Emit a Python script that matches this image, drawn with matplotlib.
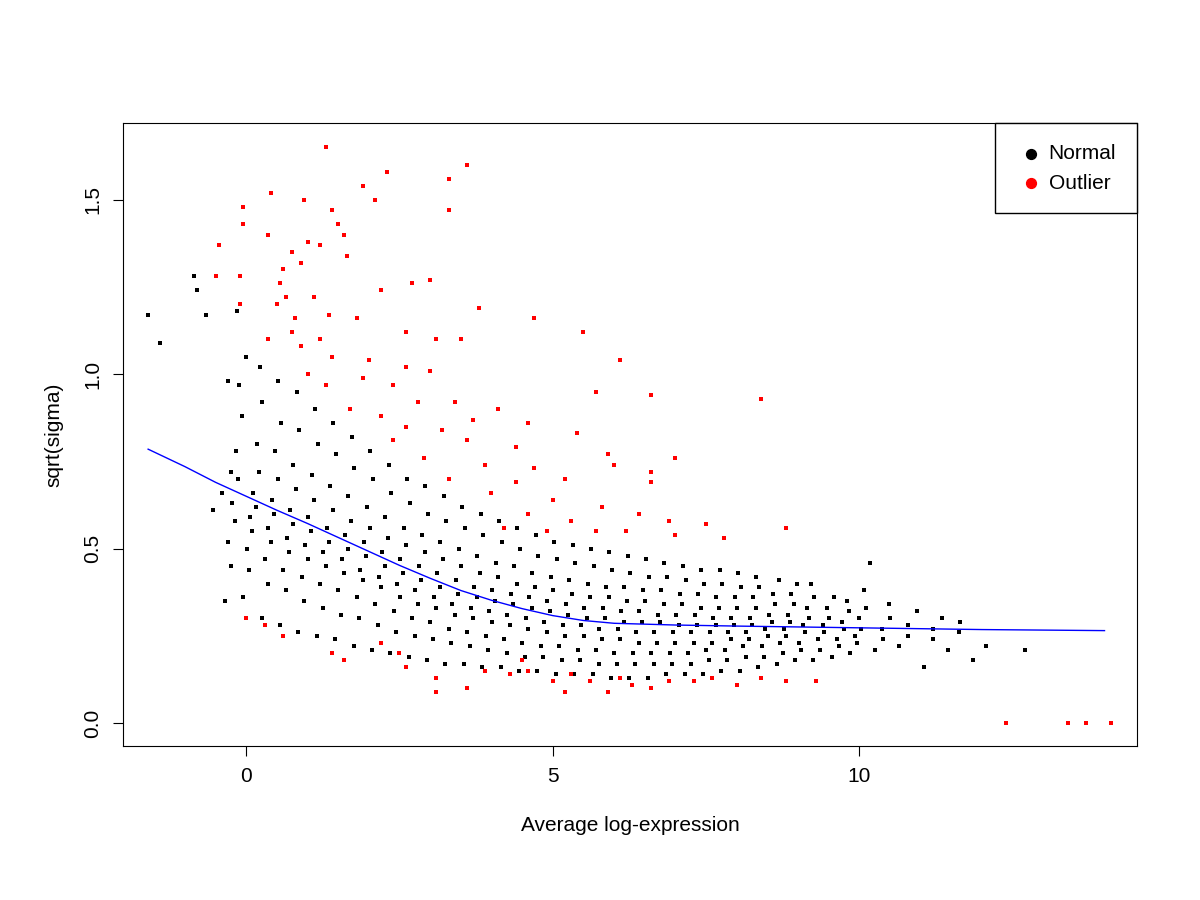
import matplotlib.pyplot as plt

# pontos "normais" lidos aproximadamente do grafico, agrupados por faixa de x
bin_x = [-0.2, 0.1, 0.4, 0.7, 1.0, 1.3, 1.6, 1.9, 2.2, 2.5, 2.8, 3.1, 3.4, 3.7,
         4.0, 4.3, 4.6, 4.9, 5.2, 5.5, 5.8, 6.1, 6.4, 6.7, 7.0, 7.3, 7.6, 7.9,
         8.2, 8.5, 8.8, 9.1, 9.4, 9.7, 10.0, 10.4, 10.8, 11.2, 11.6, 12.0]
bin_y = [
    [0.35, 0.45, 0.52, 0.58, 0.63, 0.70, 0.78, 0.88, 0.97, 1.05],
    [0.36, 0.44, 0.50, 0.55, 0.59, 0.62, 0.66, 0.72, 0.80, 0.92, 1.02],
    [0.30, 0.40, 0.47, 0.52, 0.56, 0.60, 0.64, 0.70, 0.78, 0.86, 0.98],
    [0.28, 0.38, 0.44, 0.49, 0.53, 0.57, 0.61, 0.67, 0.74, 0.84, 0.95],
    [0.26, 0.35, 0.42, 0.47, 0.51, 0.55, 0.59, 0.64, 0.71, 0.80, 0.90],
    [0.25, 0.33, 0.40, 0.45, 0.49, 0.52, 0.56, 0.61, 0.68, 0.77, 0.86],
    [0.24, 0.31, 0.38, 0.43, 0.47, 0.50, 0.54, 0.58, 0.65, 0.73, 0.82],
    [0.22, 0.30, 0.36, 0.41, 0.44, 0.48, 0.52, 0.56, 0.62, 0.70, 0.78],
    [0.21, 0.28, 0.34, 0.39, 0.42, 0.45, 0.49, 0.53, 0.59, 0.66, 0.74],
    [0.20, 0.26, 0.32, 0.36, 0.40, 0.43, 0.47, 0.51, 0.56, 0.63, 0.70],
    [0.19, 0.25, 0.30, 0.34, 0.38, 0.41, 0.45, 0.49, 0.54, 0.60, 0.68],
    [0.18, 0.24, 0.29, 0.33, 0.36, 0.39, 0.43, 0.47, 0.52, 0.58, 0.65],
    [0.17, 0.23, 0.27, 0.31, 0.34, 0.37, 0.41, 0.45, 0.50, 0.56, 0.62],
    [0.17, 0.22, 0.26, 0.30, 0.33, 0.36, 0.39, 0.43, 0.48, 0.54, 0.60],
    [0.16, 0.21, 0.25, 0.29, 0.32, 0.35, 0.38, 0.42, 0.46, 0.52, 0.58],
    [0.16, 0.20, 0.24, 0.28, 0.31, 0.34, 0.37, 0.40, 0.45, 0.50, 0.56],
    [0.15, 0.19, 0.23, 0.27, 0.30, 0.33, 0.36, 0.39, 0.43, 0.48, 0.54],
    [0.15, 0.19, 0.22, 0.26, 0.29, 0.32, 0.35, 0.38, 0.42, 0.47, 0.52],
    [0.14, 0.18, 0.22, 0.25, 0.28, 0.31, 0.34, 0.37, 0.41, 0.46, 0.51],
    [0.14, 0.18, 0.21, 0.25, 0.28, 0.30, 0.33, 0.36, 0.40, 0.45, 0.50],
    [0.14, 0.17, 0.21, 0.24, 0.27, 0.30, 0.33, 0.36, 0.39, 0.44, 0.49],
    [0.13, 0.17, 0.20, 0.24, 0.27, 0.29, 0.32, 0.35, 0.39, 0.43, 0.48],
    [0.13, 0.17, 0.20, 0.23, 0.26, 0.29, 0.32, 0.35, 0.38, 0.42, 0.47],
    [0.13, 0.17, 0.20, 0.23, 0.26, 0.29, 0.31, 0.34, 0.38, 0.42, 0.46],
    [0.14, 0.17, 0.20, 0.23, 0.26, 0.28, 0.31, 0.34, 0.37, 0.41, 0.45],
    [0.14, 0.17, 0.20, 0.23, 0.26, 0.28, 0.31, 0.33, 0.37, 0.40, 0.44],
    [0.14, 0.18, 0.21, 0.23, 0.26, 0.28, 0.30, 0.33, 0.36, 0.40, 0.44],
    [0.15, 0.18, 0.21, 0.24, 0.26, 0.28, 0.30, 0.33, 0.36, 0.39, 0.43],
    [0.15, 0.19, 0.22, 0.24, 0.26, 0.28, 0.30, 0.33, 0.36, 0.39, 0.42],
    [0.16, 0.19, 0.22, 0.25, 0.27, 0.29, 0.31, 0.34, 0.37, 0.41],
    [0.17, 0.20, 0.23, 0.25, 0.27, 0.29, 0.31, 0.34, 0.37, 0.40],
    [0.18, 0.21, 0.23, 0.26, 0.28, 0.30, 0.33, 0.36, 0.40],
    [0.18, 0.21, 0.24, 0.26, 0.28, 0.30, 0.33, 0.36],
    [0.19, 0.22, 0.24, 0.27, 0.29, 0.32, 0.35],
    [0.20, 0.23, 0.25, 0.27, 0.30, 0.33, 0.38, 0.46],
    [0.21, 0.24, 0.27, 0.30, 0.34],
    [0.22, 0.25, 0.28, 0.32],
    [0.16, 0.24, 0.27, 0.30],
    [0.21, 0.26, 0.29],
    [0.18, 0.22],
]
# pontos isolados a esquerda
extra_x = [-1.6, -1.4, -0.85, -0.8, -0.65, -0.55, -0.4, -0.3, -0.25, -0.15, 12.7]
extra_y = [1.17, 1.09, 1.28, 1.24, 1.17, 0.61, 0.66, 0.98, 0.72, 1.18, 0.21]

normal_x = []
normal_y = []
for i in range(len(bin_x)):
    n = len(bin_y[i])
    for j in range(n):
        normal_x.append(bin_x[i] + 0.3 * j / n - 0.15 + (0.07 if j % 2 else 0))
        normal_y.append(bin_y[i][j])
normal_x += extra_x
normal_y += extra_y

outlier_pts = [(1.3,1.65),(3.6,1.60),(3.3,1.56),(3.3,1.47),(2.3,1.58),(1.9,1.54),(0.4,1.52),
    (0.95,1.50),(2.1,1.50),(-0.05,1.48),(1.4,1.47),(1.5,1.43),(1.6,1.40),(0.35,1.40),(-0.05,1.43),
    (-0.45,1.37),(1.2,1.37),(1.0,1.38),(0.75,1.35),(1.65,1.34),(0.9,1.32),(-0.5,1.28),(0.6,1.30),
    (-0.1,1.28),(0.55,1.26),(0.65,1.22),(2.7,1.26),(3.0,1.27),(0.5,1.20),(1.1,1.22),(2.2,1.24),
    (1.35,1.17),(-0.1,1.2),(0.8,1.16),(1.8,1.16),(3.8,1.19),(4.7,1.16),(5.5,1.12),(3.5,1.10),
    (0.35,1.10),(0.75,1.12),(1.2,1.10),(2.6,1.12),(3.1,1.1),(0.9,1.08),(1.4,1.05),(2.0,1.04),
    (2.6,1.02),(6.1,1.04),(3.0,1.01),(1.0,1.0),(1.9,0.99),(2.4,0.97),(5.7,0.95),(6.6,0.94),
    (8.4,0.93),(1.3,0.97),(2.8,0.92),(3.4,0.92),(4.1,0.9),(1.7,0.9),(2.2,0.88),(3.7,0.87),
    (2.6,0.85),(3.2,0.84),(4.6,0.86),(5.4,0.83),(2.4,0.81),(3.6,0.81),(4.4,0.79),(5.9,0.77),
    (2.9,0.76),(3.9,0.74),(4.7,0.73),(6.0,0.74),(7.0,0.76),(6.6,0.72),(3.3,0.70),(4.4,0.69),
    (5.2,0.70),(6.6,0.69),(4.0,0.66),(5.0,0.64),(5.8,0.62),(6.4,0.6),(4.6,0.6),(5.3,0.58),
    (6.9,0.58),(7.5,0.57),(8.8,0.56),(5.7,0.55),(6.2,0.55),(7.0,0.54),(7.8,0.53),(4.2,0.56),
    (4.9,0.55),(0.3,0.28),(0.6,0.25),(1.4,0.2),(1.6,0.18),(2.5,0.2),(2.6,0.16),(3.1,0.13),
    (3.1,0.09),(3.6,0.1),(3.9,0.15),(4.3,0.14),(4.6,0.15),(5.0,0.12),(5.2,0.09),(5.3,0.14),
    (5.6,0.12),(5.9,0.09),(6.1,0.13),(6.3,0.11),(6.6,0.1),(6.9,0.12),(7.3,0.12),(7.6,0.13),
    (8.0,0.11),(8.4,0.13),(8.8,0.12),(9.3,0.12),(12.4,0.0),(13.4,0.0),(13.7,0.0),(14.1,0.0),
    (4.5,0.18),(2.2,0.23),(0.0,0.3)]
outlier_x = [p[0] for p in outlier_pts]
outlier_y = [p[1] for p in outlier_pts]

# curva de tendencia
trend_x = [-1.6, -1, -0.5, 0, 0.5, 1, 1.5, 2, 2.5, 3, 3.5, 4, 4.5, 5, 5.5, 6, 7, 8, 10, 12, 14]
trend_y = [0.785, 0.735, 0.69, 0.65, 0.61, 0.572, 0.532, 0.492, 0.452, 0.415, 0.38,
           0.352, 0.328, 0.308, 0.294, 0.286, 0.281, 0.278, 0.273, 0.268, 0.265]

plt.rcParams['font.family'] = ['Liberation Sans', 'DejaVu Sans']
fig = plt.figure(figsize=(12, 9), dpi=100)
ax = fig.add_axes([0.1025, 0.171, 0.845, 0.692])

ax.scatter(normal_x, normal_y, s=5, c='black', marker='s', linewidths=0)
ax.scatter(outlier_x, outlier_y, s=5, c='red', marker='s', linewidths=0)
ax.plot(trend_x, trend_y, color='blue', linewidth=1)

ax.set_xlim(-2.01, 14.53)
ax.set_ylim(-0.066, 1.719)
ax.set_xticks([0, 5, 10])
ax.set_yticks([0.0, 0.5, 1.0, 1.5])
ax.set_yticklabels(['0.0', '0.5', '1.0', '1.5'], rotation=90, va='center')
ax.tick_params(labelsize=15, length=7, pad=8)
ax.set_xlabel('Average log-expression', fontsize=15, labelpad=22)
ax.set_ylabel('sqrt(sigma)', fontsize=15, labelpad=14)

h1 = ax.scatter([], [], s=50, c='black')
h2 = ax.scatter([], [], s=50, c='red')
leg = ax.legend([h1, h2], ['Normal', 'Outlier'], loc='upper right', fontsize=15,
                fancybox=False, framealpha=1, edgecolor='black', borderaxespad=0,
                handletextpad=0.1, borderpad=1.0, labelspacing=0.5, handlelength=1.5)
leg.get_frame().set_linewidth(1)

fig.savefig('out.png')
